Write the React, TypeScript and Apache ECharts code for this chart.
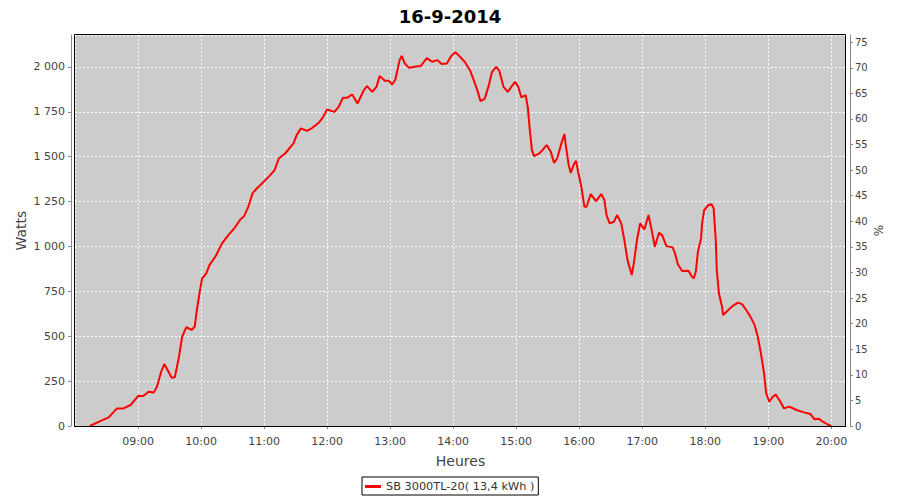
import React, { useEffect, useRef } from "react";
import * as echarts from "echarts";

const chartTitle = "16-9-2014";
const seriesName = "SB 3000TL-20( 13,4 kWh )";
const xAxisName = "Heures";
const leftAxisName = "Watts";
const rightAxisName = "%";

const times = [
  "08:14", "08:23", "08:32", "08:40", "08:46", "08:53", "09:00", "09:05", "09:10", "09:15",
  "09:18", "09:22", "09:25", "09:29", "09:32", "09:35", "09:39", "09:42", "09:46", "09:51",
  "09:54", "09:56", "09:59", "10:01", "10:05", "10:08", "10:14", "10:20", "10:26", "10:32",
  "10:37", "10:41", "10:45", "10:49", "10:53", "10:58", "11:05", "11:10", "11:14", "11:20",
  "11:28", "11:31", "11:35", "11:41", "11:46", "11:52", "11:56", "12:00", "12:07", "12:11",
  "12:15", "12:19", "12:24", "12:26", "12:29", "12:32", "12:35", "12:38", "12:43", "12:47",
  "12:50", "12:55", "12:59", "13:02", "13:05", "13:09", "13:11", "13:14", "13:18", "13:26",
  "13:29", "13:35", "13:40", "13:45", "13:49", "13:54", "13:58", "14:02", "14:05", "14:11",
  "14:16", "14:19", "14:23", "14:26", "14:30", "14:34", "14:37", "14:41", "14:44", "14:48",
  "14:52", "14:55", "14:59", "15:02", "15:05", "15:09", "15:11", "15:13", "15:15", "15:17",
  "15:22", "15:25", "15:29", "15:33", "15:36", "15:39", "15:43", "15:46", "15:47", "15:50",
  "15:52", "15:55", "15:57", "15:59", "16:02", "16:05", "16:07", "16:11", "16:16", "16:21",
  "16:24", "16:26", "16:29", "16:33", "16:36", "16:40", "16:43", "16:46", "16:50", "16:52",
  "16:55", "16:58", "17:02", "17:06", "17:09", "17:12", "17:16", "17:19", "17:23", "17:29",
  "17:31", "17:34", "17:38", "17:44", "17:47", "17:49", "17:51", "17:53", "17:56", "17:57",
  "17:59", "18:03", "18:06", "18:08", "18:10", "18:11", "18:13", "18:16", "18:17", "18:22",
  "18:26", "18:31", "18:35", "18:39", "18:43", "18:47", "18:50", "18:53", "18:56", "18:58",
  "19:01", "19:04", "19:07", "19:11", "19:15", "19:20", "19:27", "19:34", "19:40", "19:44",
  "19:48", "19:52", "19:57", "20:00",
];

const watts = [
  0, 24, 48, 98, 98, 117, 167, 167, 191, 186,
  219, 302, 345, 302, 269, 271, 386, 497, 550, 535,
  553, 646, 757, 822, 850, 896, 947, 1017, 1063, 1104,
  1147, 1169, 1221, 1296, 1323, 1351, 1392, 1425, 1490, 1518,
  1574, 1620, 1658, 1644, 1661, 1689, 1719, 1763, 1750, 1778,
  1828, 1828, 1847, 1825, 1797, 1834, 1871, 1893, 1861, 1889,
  1949, 1923, 1923, 1902, 1930, 2038, 2062, 2019, 1995, 2004,
  2004, 2049, 2029, 2038, 2016, 2019, 2060, 2082, 2066, 2029,
  1982, 1936, 1871, 1810, 1822, 1899, 1973, 2001, 1978, 1889,
  1861, 1886, 1917, 1889, 1830, 1843, 1778, 1648, 1537, 1503,
  1518, 1537, 1565, 1527, 1466, 1490, 1574, 1626, 1574, 1453,
  1410, 1459, 1477, 1416, 1333, 1221, 1221, 1292, 1253, 1292,
  1258, 1175, 1129, 1138, 1175, 1129, 1036, 924, 841, 906,
  1036, 1129, 1095, 1175, 1091, 998, 1076, 1063, 1002, 995,
  965, 900, 863, 865, 835, 822, 859, 970, 1045, 1129,
  1203, 1231, 1236, 1212, 1036, 869, 739, 664, 618, 646,
  668, 687, 679, 646, 609, 562, 497, 405, 293, 182,
  135, 160, 176, 141, 98, 108, 89, 76, 67, 37,
  41, 24, 7, 0,
];

const xMinTime = "08:00";
const xMaxTime = "20:14";
const wattsMax = 2178;
const wattsStep = 250;
const pctMax = 76.4;
const pctStep = 5;

const toMin = (s: string) => {
  const [h, m] = s.split(":").map(Number);
  return h * 60 + m;
};
const pad = (n: number) => (n < 10 ? "0" + n : "" + n);
const fmtTime = (v: number) => pad(Math.floor(v / 60)) + ":" + pad(Math.round(v % 60));
const fmtWatts = (v: number) => {
  const s = String(Math.round(v));
  return s.length > 3 ? s.slice(0, s.length - 3) + " " + s.slice(-3) : s;
};

const FONT = "DejaVu Sans";

export default function App() {
  const ref = useRef<HTMLDivElement>(null);
  useEffect(() => {
    if (!ref.current) return;
    const chart = echarts.init(ref.current, undefined, { renderer: "svg" });
    const data = times.map((t, i) => [toMin(t), watts[i]]);
    const gridL = 75, gridT = 35, gridR = 846, gridB = 426;
    chart.setOption({
      animation: false,
      backgroundColor: "#ffffff",
      textStyle: { fontFamily: FONT },
      title: {
        text: chartTitle,
        left: "center",
        top: 2,
        textStyle: { fontFamily: FONT, fontSize: 18, fontWeight: "bold", color: "#000" },
      },
      legend: {
        left: 362,
        top: 477,
        padding: [4, 4, 3, 3],
        borderColor: "#000",
        borderWidth: 1,
        itemWidth: 16,
        itemHeight: 3,
        icon: "rect",
        textStyle: { fontFamily: FONT, fontSize: 11.3, color: "#333" },
        data: [seriesName],
      },
      grid: {
        left: gridL,
        top: gridT,
        right: 900 - gridR,
        bottom: 500 - gridB,
        show: true,
        backgroundColor: "#cccccc",
        borderWidth: 0,
      },
      xAxis: {
        type: "value",
        min: toMin(xMinTime),
        max: toMin(xMaxTime),
        interval: 60,
        offset: 4,
        name: xAxisName,
        nameLocation: "middle",
        nameGap: 24,
        nameMoveOverlap: false,
        nameTextStyle: { fontFamily: FONT, fontSize: 14, color: "#444" },
        axisLine: { show: true, lineStyle: { color: "#888", width: 1 } },
        axisTick: { show: true, length: 3, lineStyle: { color: "#888" } },
        axisLabel: {
          formatter: (v: number) => fmtTime(v),
          fontFamily: FONT,
          fontSize: 11,
          color: "#444",
          margin: 6,
          showMinLabel: false,
          showMaxLabel: false,
        },
        splitLine: { show: true, lineStyle: { color: "#ffffff", type: [2, 2], width: 1 } },
      },
      yAxis: [
        {
          type: "value",
          min: 0,
          max: wattsMax,
          interval: wattsStep,
          position: "left",
          offset: 4,
          name: leftAxisName,
          nameLocation: "middle",
          nameGap: 43,
          nameMoveOverlap: false,
          nameTextStyle: { fontFamily: FONT, fontSize: 14, color: "#444" },
          axisLine: { show: true, lineStyle: { color: "#888", width: 1 } },
          axisTick: { show: true, length: 3, lineStyle: { color: "#888" } },
          axisLabel: {
            formatter: (v: number) => fmtWatts(v),
            fontFamily: FONT,
            fontSize: 11,
            color: "#444",
            margin: 6,
            showMaxLabel: false,
          },
          splitLine: { show: true, lineStyle: { color: "#ffffff", type: [2, 2], width: 1 } },
        },
        {
          type: "value",
          min: 0,
          max: pctMax,
          interval: pctStep,
          position: "right",
          offset: 4,
          name: rightAxisName,
          nameLocation: "middle",
          nameGap: 23,
          nameMoveOverlap: false,
          nameTextStyle: { fontFamily: FONT, fontSize: 12, color: "#444" },
          axisLine: { show: true, lineStyle: { color: "#888", width: 1 } },
          axisTick: { show: true, length: 3, lineStyle: { color: "#888" } },
          axisLabel: {
            fontFamily: FONT,
            fontSize: 10,
            color: "#444",
            margin: 5,
            showMaxLabel: false,
          },
          splitLine: { show: false },
        },
      ],
      graphic: [
        {
          type: "rect",
          silent: true,
          z: 100,
          shape: { x: gridL - 0.5, y: gridT - 0.5, width: gridR - gridL, height: gridB - gridT + 1 },
          style: { fill: "rgba(0,0,0,0)", stroke: "#000", lineWidth: 1 },
        },
      ],
      series: [
        {
          name: seriesName,
          type: "line",
          data,
          yAxisIndex: 0,
          showSymbol: false,
          symbol: "none",
          lineStyle: { color: "#ff0000", width: 2 },
          itemStyle: { color: "#ff0000" },
          clip: true,
        },
      ],
    });
    return () => chart.dispose();
  }, []);
  return (
    <div
      ref={ref}
      style={{ position: "fixed", left: 0, top: 0, width: 900, height: 500 }}
    />
  );
}
